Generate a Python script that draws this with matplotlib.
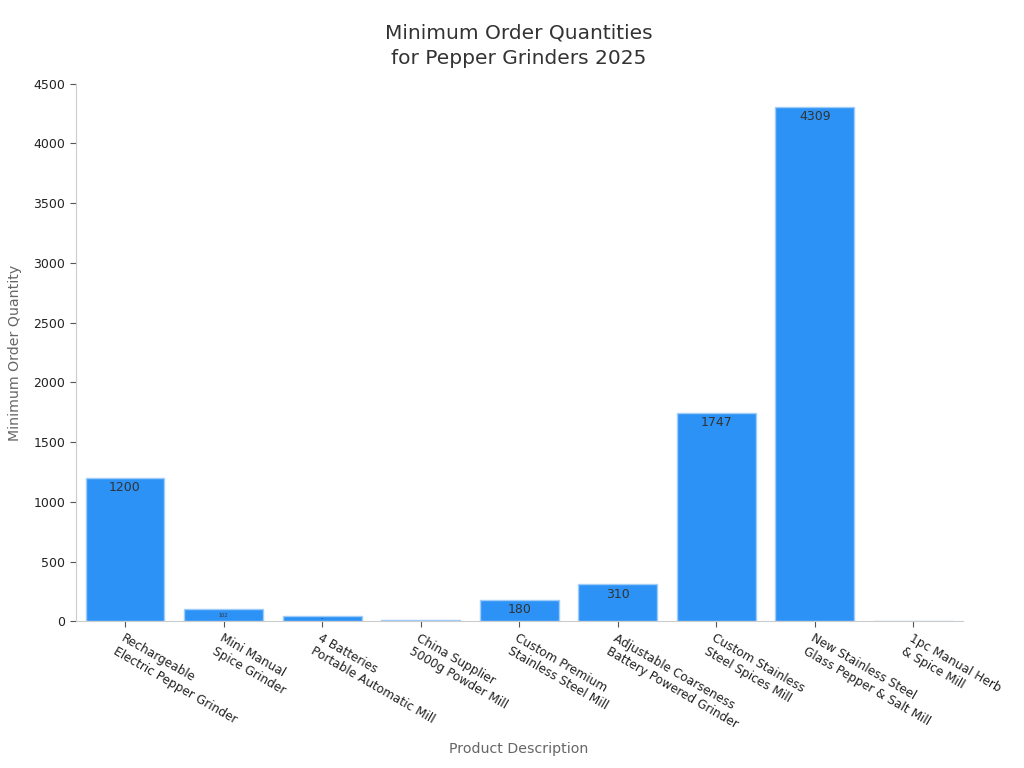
import matplotlib
matplotlib.use("Agg")
import matplotlib.pyplot as plt

# Chart data
products = [
    "Rechargeable\nElectric Pepper Grinder",
    "Mini Manual\nSpice Grinder",
    "4 Batteries\nPortable Automatic Mill",
    "China Supplier\n5000g Powder Mill",
    "Custom Premium\nStainless Steel Mill",
    "Adjustable Coarseness\nBattery Powered Grinder",
    "Custom Stainless\nSteel Spices Mill",
    "New Stainless Steel\nGlass Pepper & Salt Mill",
    "1pc Manual Herb\n& Spice Mill",
]
moq = [1200, 102, 47, 12, 180, 310, 1747, 4309, 2]
y_ticks = [0, 500, 1000, 1500, 2000, 2500, 3000, 3500, 4000, 4500]

plt.rcParams['font.family'] = ['DejaVu Sans']

fig = plt.figure(figsize=(10.24, 7.68), dpi=100)
ax = fig.add_axes([0.074, 0.191, 0.866, 0.700])

x = list(range(len(products)))
bars = ax.bar(x, moq, width=0.8, color='#2c92f6', edgecolor='#9fcdf8', linewidth=1)

# value labels inside bars, shrunk for short bars
px_per_unit = 537 / 4500
for xi, v in zip(x, moq):
    h_px = v * px_per_unit
    if h_px < 4:
        continue
    fs = 9 if h_px > 18 else h_px * 0.3
    offset = min(10, h_px / 2)
    ax.annotate(str(v), (xi, v), xytext=(0, -offset), textcoords='offset pixels',
                ha='center', va='center', fontsize=fs, color='#333333')

ax.set_xlim(-0.5, 8.5)
ax.set_ylim(0, 4500)
ax.set_yticks(y_ticks)
ax.set_xticks(x)
ax.set_xticklabels(products, rotation=-30, ha='left', rotation_mode='anchor',
                   fontsize=8.7, color='#222222')
ax.tick_params(axis='y', labelsize=9, labelcolor='#222222', color='#555555', length=4)
ax.tick_params(axis='x', color='#555555', length=4)

for side in ['top', 'right']:
    ax.spines[side].set_visible(False)
for side in ['left', 'bottom']:
    ax.spines[side].set_color('#cccccc')

ax.set_xlabel('Product Description', fontsize=10.2, color='#666666', labelpad=8)
ax.set_ylabel('Minimum Order Quantity', fontsize=10.2, color='#666666', labelpad=8)
ax.set_title('Minimum Order Quantities\nfor Pepper Grinders 2025', fontsize=14.5,
             color='#333333', pad=14, linespacing=1.45)

fig.savefig('out.png', dpi=100)
